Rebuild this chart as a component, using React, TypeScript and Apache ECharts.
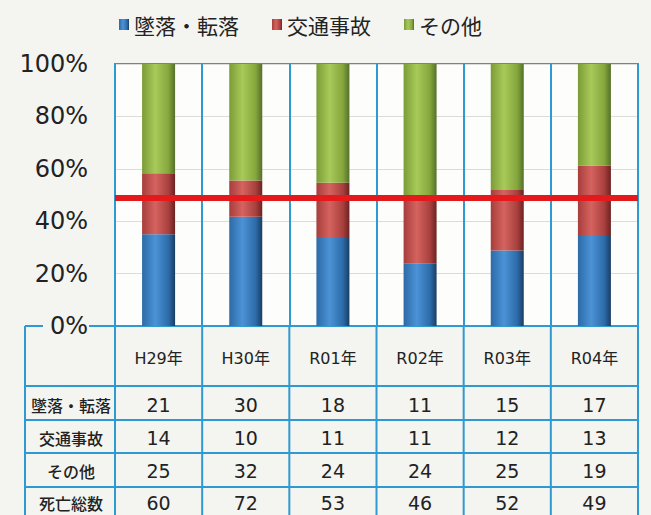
import React, { useEffect, useRef } from "react";
import * as echarts from "echarts";

const categories = ["H29年", "H30年", "R01年", "R02年", "R03年", "R04年"];
const seriesNames = ["墜落・転落", "交通事故", "その他"];
const fallCounts = [21, 30, 18, 11, 15, 17];
const trafficCounts = [14, 10, 11, 11, 12, 13];
const otherCounts = [25, 32, 24, 24, 25, 19];
const totalCounts = [60, 72, 53, 46, 52, 49];
const rowLabels = ["墜落・転落", "交通事故", "その他", "死亡総数"];
const referenceLine = 49;

const BLUE = "#2f9ad2";
const FONT = "'DejaVu Sans', 'Noto Sans CJK JP', sans-serif";
const CJK = "'Noto Sans CJK JP', sans-serif";

const grad = (a: string, b: string, c: string, d: string) =>
  new echarts.graphic.LinearGradient(0, 0, 1, 0, [
    { offset: 0, color: a },
    { offset: 0.4, color: b },
    { offset: 0.8, color: c },
    { offset: 1, color: d },
  ]);

export default function App() {
  const ref = useRef<HTMLDivElement>(null);
  useEffect(() => {
    if (!ref.current) return;
    const chart = echarts.init(ref.current, null, { renderer: "svg" });
    const W = 651;
    const H = 515;
    const L = 115;
    const R = 638;
    const TOP = 64;
    const BOT = 326;
    const colW = (R - L) / categories.length;
    const tableLeft = 25;
    const hLines = [386, 420, 453, 487];
    const rowCenters = [405, 438, 471, 503];
    const rows = [fallCounts, trafficCounts, otherCounts, totalCounts];

    const pct = (arr: number[]) => arr.map((v, i) => (v / totalCounts[i]) * 100);

    const lineStyle = { stroke: BLUE, lineWidth: 2 };
    const graphics: any[] = [];
    graphics.push({ type: "line", shape: { x1: tableLeft, y1: BOT, x2: 43, y2: BOT }, style: lineStyle });
    graphics.push({ type: "line", shape: { x1: 89, y1: BOT, x2: L, y2: BOT }, style: lineStyle });
    graphics.push({ type: "line", shape: { x1: tableLeft, y1: BOT, x2: tableLeft, y2: H }, style: lineStyle });
    hLines.forEach((y) =>
      graphics.push({ type: "line", shape: { x1: tableLeft, y1: y, x2: R, y2: y }, style: lineStyle })
    );
    for (let i = 0; i <= categories.length; i++) {
      const x = L + i * colW;
      graphics.push({ type: "line", shape: { x1: x, y1: BOT, x2: x, y2: H }, style: lineStyle });
    }
    rowLabels.forEach((lab, r) => {
      graphics.push({
        type: "text",
        x: (tableLeft + L) / 2 + 1,
        y: rowCenters[r],
        style: {
          text: lab,
          fontSize: 16,
          fontFamily: CJK,
          fontWeight: 500,
          fill: "#222",
          align: "center",
          verticalAlign: "middle",
        },
      });
      rows[r].forEach((v, i) => {
        graphics.push({
          type: "text",
          x: L + (i + 0.5) * colW,
          y: rowCenters[r],
          style: {
            text: String(v),
            fontSize: 19,
            fontFamily: FONT,
            fill: "#222",
            align: "center",
            verticalAlign: "middle",
          },
        });
      });
    });

    const colors = [
      grad("#2c6aa6", "#4b93d6", "#2d6ba9", "#1a3d63"),
      grad("#a63e3c", "#d5635f", "#a8403e", "#6c2222"),
      grad("#7b9c36", "#a8ca5a", "#84a63c", "#55702a"),
    ];
    const dataSets = [pct(fallCounts), pct(trafficCounts), pct(otherCounts)];

    chart.setOption({
      animation: false,
      backgroundColor: "#f4f4f0",
      textStyle: { fontFamily: FONT },
      legend: {
        top: 9,
        left: 114,
        itemGap: 33,
        itemWidth: 10,
        itemHeight: 11,
        icon: "rect",
        textStyle: { fontSize: 21, fontFamily: CJK, color: "#222" },
        data: seriesNames,
      },
      grid: {
        left: L,
        right: W - R,
        top: TOP,
        bottom: H - BOT,
        show: true,
        backgroundColor: "#fdfdfb",
        borderColor: BLUE,
        borderWidth: 2,
      },
      xAxis: {
        type: "category",
        data: categories,
        boundaryGap: true,
        axisTick: { show: false },
        axisLine: { show: true, lineStyle: { color: BLUE, width: 2 } },
        axisLabel: { fontSize: 16, color: "#222", margin: 24, fontFamily: FONT },
        splitLine: { show: true, interval: 0, lineStyle: { color: BLUE, width: 2 } },
      },
      yAxis: {
        type: "value",
        min: 0,
        max: 100,
        interval: 20,
        axisLine: { show: false },
        axisTick: { show: false },
        axisLabel: { formatter: "{value}%", fontSize: 24, color: "#222", margin: 27, fontFamily: FONT },
        splitLine: { show: true, lineStyle: { color: "#dcdcd8", width: 1 } },
      },
      series: seriesNames.map((name, k) => ({
        name,
        type: "bar",
        stack: "total",
        barWidth: 33,
        itemStyle: { color: colors[k] },
        data: dataSets[k],
        ...(k === 2
          ? {
              markLine: {
                silent: true,
                symbol: "none",
                label: { show: false },
                lineStyle: { color: "#e3191c", width: 6, type: "solid" },
                data: [{ yAxis: referenceLine }],
              },
            }
          : {}),
      })),
      graphic: graphics,
    });
    return () => chart.dispose();
  }, []);
  return (
    <div
      ref={ref}
      style={{ width: 651, height: 515, position: "absolute", left: 0, top: 0 }}
    />
  );
}
